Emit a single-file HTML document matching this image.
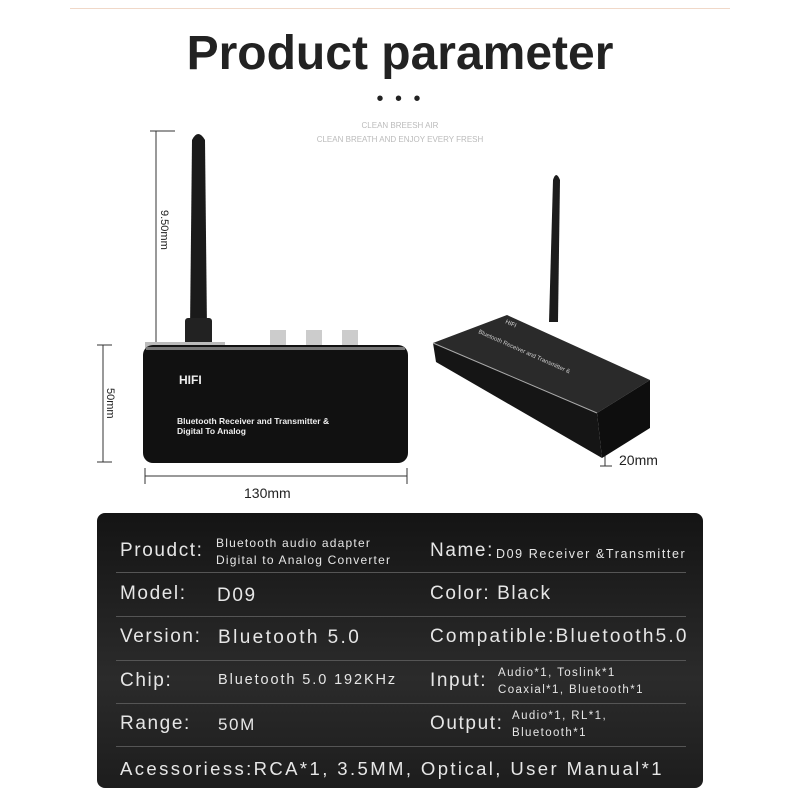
<!DOCTYPE html>
<html><head><meta charset="utf-8"><style>
body{margin:0;width:800px;height:800px;background:#fff;position:relative;overflow:hidden;font-family:"Liberation Sans",sans-serif}
.a{position:absolute;white-space:nowrap}
.panel{position:absolute;left:97px;top:513px;width:606px;height:275px;border-radius:8px;background:linear-gradient(180deg,#141414,#2b2b2b 60%,#1d1d1d)}
.t{position:absolute;color:#e6e6e6;white-space:nowrap;letter-spacing:1.6px}
.hr{position:absolute;left:116px;width:570px;height:1px;background:#555}
</style></head><body>
<div class="a" style="left:70px;top:8px;width:660px;height:1px;background:#f0d8c8"></div>
<div class="a" style="left:0;width:800px;top:26px;text-align:center;font-weight:bold;font-size:48px;color:#222">Product parameter</div>
<div class="a" style="left:0;width:800px;top:88px;text-align:center;font-size:20px;color:#222;letter-spacing:3px">• • •</div>
<div class="a" style="left:0;width:800px;top:121px;text-align:center;font-size:8px;color:#bbb">CLEAN BREESH AIR</div>
<div class="a" style="left:0;width:800px;top:135px;text-align:center;font-size:8px;color:#bbb">CLEAN BREATH AND ENJOY EVERY FRESH</div>
<svg class="a" style="left:0;top:0" width="800" height="510">
<g stroke="#333" stroke-width="1" fill="none">
<line x1="156" y1="131" x2="156" y2="343"/><line x1="150" y1="131" x2="175" y2="131"/><line x1="150" y1="343" x2="175" y2="343"/>
<line x1="103" y1="345" x2="103" y2="462"/><line x1="97" y1="345" x2="112" y2="345"/><line x1="97" y1="462" x2="112" y2="462"/>
<line x1="145" y1="476" x2="407" y2="476"/><line x1="145" y1="468" x2="145" y2="484"/><line x1="407" y1="468" x2="407" y2="484"/>
<line x1="605" y1="420" x2="605" y2="466"/><line x1="600" y1="466" x2="612" y2="466"/>
</g>
<text x="0" y="0" transform="translate(161,210) rotate(90)" font-size="11" fill="#222" font-family="Liberation Sans">9.50mm</text>
<text x="0" y="0" transform="translate(107,388) rotate(90)" font-size="11" fill="#222" font-family="Liberation Sans">50mm</text>
<text x="244" y="498" font-size="14" fill="#222" font-family="Liberation Sans">130mm</text>
<text x="619" y="465" font-size="14" fill="#222" font-family="Liberation Sans">20mm</text>
<path d="M190 330 L192 140 Q198 128 205 140 L207 330 Z" fill="#1a1a1a"/>
<rect x="185" y="318" width="27" height="30" rx="3" fill="#222"/>
<rect x="145" y="342" width="80" height="6" fill="#bbb"/>
<rect x="270" y="330" width="16" height="16" fill="#ccc"/><rect x="306" y="330" width="16" height="16" fill="#ccc"/><rect x="342" y="330" width="16" height="16" fill="#ccc"/>
<rect x="143" y="345" width="265" height="118" rx="10" fill="#111"/>
<rect x="146" y="347" width="259" height="3" fill="#777"/>
<text x="179" y="384" font-size="12" font-weight="bold" fill="#eee" font-family="Liberation Sans">HIFI</text>
<text x="177" y="424" font-size="8.5" font-weight="bold" fill="#eee" font-family="Liberation Sans">Bluetooth Receiver and Transmitter &amp;</text>
<text x="177" y="434" font-size="8.5" font-weight="bold" fill="#eee" font-family="Liberation Sans">Digital To Analog</text>
<path d="M433 343 L507 315 L650 380 L597 413 Z" fill="#2a2a2a"/>
<path d="M433 343 L597 413 L602 458 L436 362 Z" fill="#151515"/>
<path d="M597 413 L650 380 L650 428 L602 458 Z" fill="#0e0e0e"/>
<line x1="433" y1="343" x2="597" y2="413" stroke="#aaa" stroke-width="1"/>
<path d="M549 322 L553 180 Q556 170 560 180 L558 322 Z" fill="#1c1c1c"/>
<text transform="translate(505,323) rotate(24)" font-size="6" fill="#ddd" font-family="Liberation Sans">HIFI</text>
<text transform="translate(478,333) rotate(24)" font-size="6" fill="#ccc" font-family="Liberation Sans">Bluetooth Receiver and Transmitter &amp;</text>
</svg>
<div class="panel"></div>
<div class="hr" style="top:572px"></div><div class="hr" style="top:616px"></div><div class="hr" style="top:660px"></div><div class="hr" style="top:703px"></div><div class="hr" style="top:746px"></div>
<div class="t" style="left:120px;top:540px;font-size:19px">Proudct:</div>
<div class="t" style="left:216px;top:535px;font-size:12px;letter-spacing:1.2px;line-height:17px">Bluetooth audio adapter<br>Digital to Analog Converter</div>
<div class="t" style="left:430px;top:540px;font-size:19px">Name:</div>
<div class="t" style="left:496px;top:547px;font-size:12.5px;letter-spacing:1.6px">D09 Receiver &amp;Transmitter</div>
<div class="t" style="left:120px;top:583px;font-size:19px">Model:</div>
<div class="t" style="left:217px;top:585px;font-size:19px">D09</div>
<div class="t" style="left:430px;top:583px;font-size:19px">Color: Black</div>
<div class="t" style="left:120px;top:626px;font-size:19px">Version:</div>
<div class="t" style="left:218px;top:627px;font-size:19px;letter-spacing:2.4px">Bluetooth 5.0</div>
<div class="t" style="left:430px;top:626px;font-size:19px;letter-spacing:2.2px">Compatible:Bluetooth5.0</div>
<div class="t" style="left:120px;top:670px;font-size:19px">Chip:</div>
<div class="t" style="left:218px;top:672px;font-size:14.5px;letter-spacing:1.9px">Bluetooth 5.0 192KHz</div>
<div class="t" style="left:430px;top:670px;font-size:19px">Input:</div>
<div class="t" style="left:498px;top:665px;font-size:11.5px;letter-spacing:1.4px;line-height:17px">Audio*1, Toslink*1<br>Coaxial*1, Bluetooth*1</div>
<div class="t" style="left:120px;top:713px;font-size:19px">Range:</div>
<div class="t" style="left:218px;top:715px;font-size:17px">50M</div>
<div class="t" style="left:430px;top:713px;font-size:19px">Output:</div>
<div class="t" style="left:512px;top:708px;font-size:11.5px;letter-spacing:1.4px;line-height:17px">Audio*1, RL*1,<br>Bluetooth*1</div>
<div class="t" style="left:120px;top:758px;font-size:18.5px;letter-spacing:2.4px">Acessoriess:RCA*1,  3.5MM, Optical, User Manual*1</div>
</body></html>
